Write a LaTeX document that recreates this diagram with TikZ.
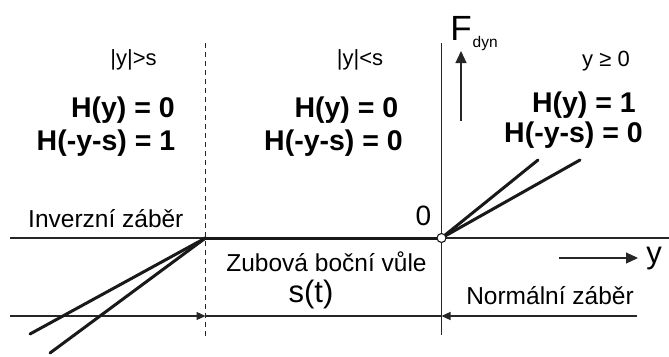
\documentclass[tikz,border=0pt]{standalone}
\usepackage{fontspec}
\setmainfont{Liberation Sans}
\usetikzlibrary{arrows.meta}
\begin{document}
\begin{tikzpicture}[x=1pt,y=-1pt,
  thinline/.style={line width=1.1pt, draw=black!85},
  thickline/.style={line width=3pt, draw=black!90, line cap=round},
  lbl/.style={inner sep=0pt, anchor=base},
  cond/.style={lbl, font=\fontsize{22}{26}\selectfont},
  heq/.style={inner sep=0pt, anchor=base east, font=\fontsize{28.5}{32}\selectfont\bfseries},
  txt/.style={lbl, font=\fontsize{24.5}{28}\selectfont},
  smalltip/.style={-{Triangle[length=9pt,width=8pt]}},
  bigtip/.style={-{Triangle[length=12pt,width=11pt]}},
]
\useasboundingbox (0,0) rectangle (669,356);

% coordinates
\coordinate (axL) at (10,238);
\coordinate (axR) at (669,238);
\coordinate (o) at (441.5,238);
\coordinate (s) at (205.5,238);
\coordinate (vT) at (441.5,43);
\coordinate (vB) at (441.5,335);
\coordinate (dT) at (205.5,43);
\coordinate (dB) at (205.5,337);
\coordinate (bL) at (10,316);
\coordinate (bS) at (205.5,316);
\coordinate (bO) at (441.5,316);
\coordinate (bR) at (637,316);
\coordinate (l1) at (30,334);
\coordinate (l2) at (50,353);
\coordinate (r1) at (538,160);
\coordinate (r2) at (580,160);
\coordinate (fB) at (461,121);
\coordinate (fT) at (461,51);
\coordinate (yL) at (559,258);
\coordinate (yR) at (638,258);

% axes
\draw[thinline] (axL) -- (axR);
\draw[thinline] (vT) -- (vB);
\draw[thinline, dash pattern=on 5pt off 4pt] (dT) -- (dB);

% bottom dimension line
\draw[thinline] (bS) -- (bO);
\draw[thinline, smalltip] (bL) -- (bS);
\draw[thinline, smalltip] (bR) -- (bO);

% characteristic
\draw[thickline] (s) -- (o);
\draw[thickline] (s) -- (l1);
\draw[thickline] (s) -- (l2);
\draw[thickline] (o) -- (r1);
\draw[thickline] (o) -- (r2);
\node[circle, draw=black!90, fill=white, line width=1.1pt, minimum size=9pt, inner sep=0pt] (origin) at (o) {};

% direction arrows
\draw[thinline, bigtip] (fB) -- (fT);
\draw[thinline, bigtip] (yL) -- (yR);

% labels
\node[lbl, font=\fontsize{35}{38}\selectfont] (F) at (461,40) {F};
\node[inner sep=0pt, anchor=base west, font=\fontsize{15.5}{18}\selectfont] (dyn) at (472.5,47) {dyn};
\node[lbl, font=\fontsize{31}{34}\selectfont] (ylab) at (654,263) {y};
\node[lbl, font=\fontsize{28}{32}\selectfont] (zero) at (423.5,225) {0};

\node[cond] (c1) at (133.5,65) {|y|>s};
\node[cond] (c2) at (360,65) {|y|<s};
\node[cond] (c3) at (606,66) {y ≥ 0};

\node[heq] (h1a) at (175,117) {H(y) = 0};
\node[heq] (h1b) at (175.5,150) {H(-y-s) = 1};
\node[heq] (h2a) at (398.5,117) {H(y) = 0};
\node[heq] (h2b) at (403,150) {H(-y-s) = 0};
\node[heq] (h3a) at (636,112) {H(y) = 1};
\node[heq] (h3b) at (643,142) {H(-y-s) = 0};

\node[txt, anchor=base west] (inv) at (28,227) {Inverzní záběr};
\node[txt] (zub) at (326.5,271) {Zubová boční vůle};
\node[lbl, font=\fontsize{31}{34}\selectfont] (st) at (311,302) {s(t)};
\node[txt] (norm) at (550,304) {Normální záběr};
\end{tikzpicture}
\end{document}
